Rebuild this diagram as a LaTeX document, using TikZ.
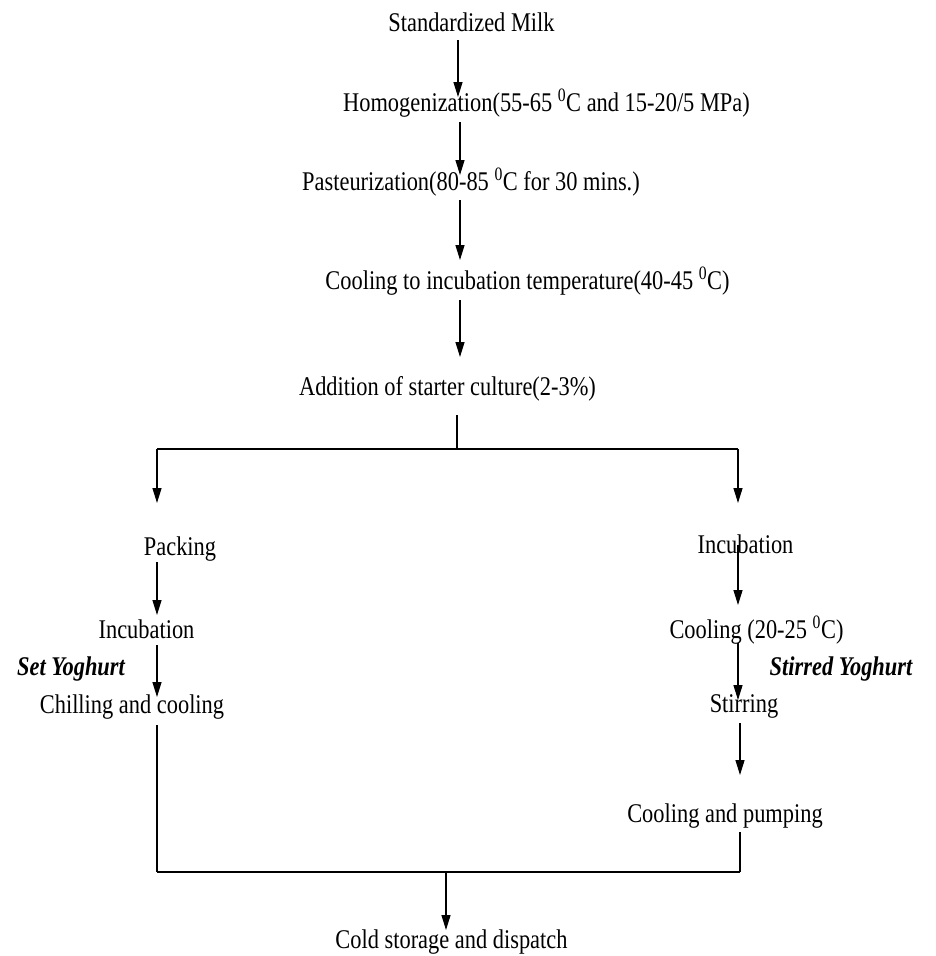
\documentclass[tikz,border=0pt]{standalone}
\usepackage{fontspec}
\setmainfont[FakeStretch=0.83]{Liberation Serif}
\usetikzlibrary{arrows.meta}
\tikzset{
	stage/.style={inner sep=0pt, anchor=base, font=\fontsize{27}{32}\selectfont},
	kind/.style={stage, font=\fontsize{27}{32}\selectfont\bfseries\itshape},
	flow/.style={line width=1.3pt, -{Triangle[width=9pt,length=15pt]}},
	link/.style={line width=1.3pt}
}
\newcommand{\degz}{\textsuperscript{0}}
\begin{document}
\begin{tikzpicture}[x=1pt, y=-1pt]
		\useasboundingbox (0, 0) rectangle (936, 956);
		% main line
		\node[stage] (milk) at (471.5, 31) {Standardized Milk};
		\node[stage] (homo) at (546.5, 111) {Homogenization(55-65 \degz C and 15-20/5 MPa)};
		\node[stage] (past) at (471, 190) {Pasteurization(80-85 \degz C for 30 mins.)};
		\node[stage] (cool) at (527.5, 289) {Cooling to incubation temperature(40-45 \degz C)};
		\node[stage] (start) at (447.5, 395) {Addition of starter culture(2-3\%)};
		% set yoghurt
		\node[stage] (pack) at (180, 555) {Packing};
		\node[stage] (incset) at (146.5, 638) {Incubation};
		\node[stage] (chill) at (132, 713) {Chilling and cooling};
		\node[kind] (set) at (71, 675) {Set Yoghurt};
		% stirred yoghurt
		\node[stage] (incstir) at (745.5, 553) {Incubation};
		\node[stage] (coolstir) at (756.5, 638) {Cooling (20-25 \degz C)};
		\node[stage] (stir) at (744, 712) {Stirring};
		\node[kind] (stirred) at (841, 675) {Stirred Yoghurt};
		\node[stage] (pump) at (725, 822) {Cooling and pumping};
		% end
		\node[stage] (store) at (451.5, 948) {Cold storage and dispatch};

		\coordinate (top) at (458, 0);
		\coordinate (mid) at (460, 0);
		\coordinate (split) at (457, 449);
		\coordinate (left) at (157, 449);
		\coordinate (right) at (738, 449);
		\coordinate (rightlow) at (740, 872);
		\coordinate (join) at (446, 872);

		\draw[flow] ([yshift=-9pt]milk.base -| top) -- ([yshift=14pt]homo.base -| top);
		\draw[flow] ([yshift=-11pt]homo.base -| mid) -- ([yshift=15pt]past.base -| mid);
		\draw[flow] ([yshift=-10pt]past.base -| mid) -- ([yshift=29pt]cool.base -| mid);
		\draw[flow] ([yshift=-11pt]cool.base -| mid) -- ([yshift=38pt]start.base -| mid);
		\draw[link] ([yshift=-20pt]start.base -| split) -- (split);
		\draw[link] (left) -- (right);
		\draw[flow] (left) -- ([yshift=52pt]pack.base -| left);
		\draw[flow] (right) -- ([yshift=50pt]incstir.base -| right);

		\draw[flow] ([yshift=-7pt]pack.base -| left) -- ([yshift=23pt]incset.base -| left);
		\draw[flow] ([yshift=-7pt]incset.base -| left) -- ([yshift=16pt]chill.base -| left);
		\draw[link] ([yshift=-12pt]chill.base -| left) -- (left |- join);

		\draw[flow] ([yshift=8pt]incstir.base -| right) -- ([yshift=33pt]coolstir.base -| right);
		\draw[flow] ([yshift=-5pt]coolstir.base -| right) -- ([yshift=12pt]stir.base -| right);
		\draw[flow] ([yshift=-11pt]stir.base -| rightlow) -- ([yshift=47pt]pump.base -| rightlow);
		\draw[link] ([yshift=-10pt]pump.base -| rightlow) -- (rightlow);

		\draw[link] (left |- join) -- (rightlow);
		\draw[flow] (join) -- ([yshift=18pt]store.base -| join);
	\end{tikzpicture}
\end{document}
